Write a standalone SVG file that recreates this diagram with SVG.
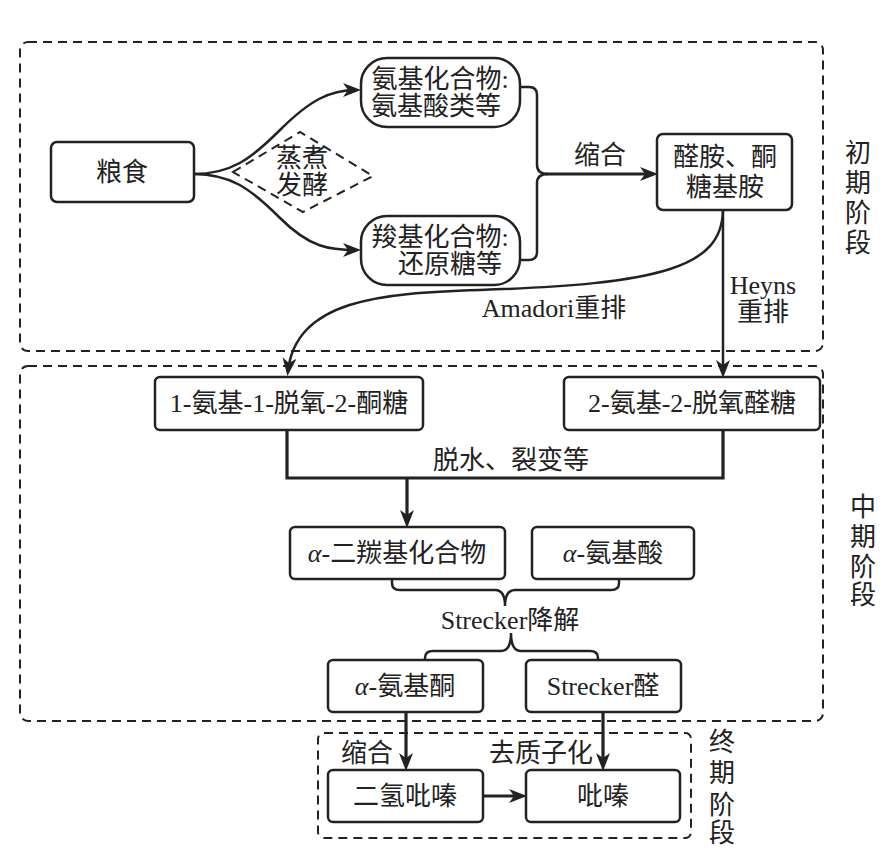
<svg xmlns="http://www.w3.org/2000/svg" width="890" height="854" viewBox="0 0 890 854">
<style>
.stage{fill:none;stroke:#222;stroke-width:2;stroke-dasharray:9 6}
.box{fill:#fff;stroke:#222;stroke-width:2.5}
.ln{fill:none;stroke:#222;stroke-width:2.5}
.thk{fill:none;stroke:#222;stroke-width:3.2}
text{font-family:"Liberation Serif","Noto Sans CJK SC",serif;font-size:26px;fill:#222;text-anchor:middle}
.it{font-style:italic}
</style>
<defs>
<marker id="ah" markerUnits="userSpaceOnUse" viewBox="0 0 18 14" markerWidth="18" markerHeight="14" refX="13" refY="7" orient="auto">
<path d="M0,0 L18,7 L0,14 L5,7 z" fill="#222"/>
</marker>
</defs>
<rect class="bg" width="890" height="854" fill="#fff"/>
<g id="stages">
<rect class="stage" x="20" y="42" width="803" height="309" rx="8"/>
<rect class="stage" x="20" y="366" width="803" height="355" rx="8"/>
<rect class="stage" x="318" y="733" width="373" height="105" rx="6"/>
<text x="858" y="162">初</text><text x="858" y="192">期</text><text x="858" y="222">阶</text><text x="858" y="252">段</text>
<text x="863" y="516">中</text><text x="863" y="546">期</text><text x="863" y="576">阶</text><text x="863" y="604">段</text>
<text x="722" y="751">终</text><text x="722" y="782">期</text><text x="722" y="814">阶</text><text x="722" y="842">段</text>
</g>
<g id="connectors">
<path class="ln" d="M194,174 C230,174 250,160 280,130 C310,100 330,90 356,90" marker-end="url(#ah)"/>
<path class="ln" d="M194,174 C230,174 250,188 280,218 C310,248 330,250 356,250" marker-end="url(#ah)"/>
<path class="ln" d="M520,87 H529 Q537,87 537,95 V165 Q537,174 548,174 M520,260 H529 Q537,260 537,252 V183 Q537,174 548,174"/>
<path class="thk" d="M546,174 H653" marker-end="url(#ah)"/>
<path class="ln" d="M723,210 V373" marker-end="url(#ah)"/>
<path class="ln" d="M723,210 C722,268 660,284 480,290 C380,293 296,300 288,371" marker-end="url(#ah)"/>
<path class="thk" d="M287,430 V478 H723 V430"/>
<path class="thk" d="M407,478 V523" marker-end="url(#ah)"/>
<path class="ln" d="M392,579 V583 Q392,590 400,590 H495 Q505,590 505,606 Q505,590 515,590 H611 Q619,590 619,583 V579"/>
<path class="ln" d="M425,660 V658 Q425,651 433,651 H501 Q511,651 511,633 Q511,651 521,651 H590 Q598,651 598,658 V660"/>
<path class="thk" d="M406,712 V766" marker-end="url(#ah)"/>
<path class="thk" d="M603,712 V766" marker-end="url(#ah)"/>
<path class="thk" d="M483,796 H522" marker-end="url(#ah)"/>
</g>
<g id="n-grain"><rect class="box" x="51" y="142" width="143" height="60" rx="6"/><text x="122" y="181">粮食</text></g>
<g id="n-process"><path d="M233,172 L300,132 L373,176 L303,212 Z" fill="none" stroke="#222" stroke-width="2" stroke-dasharray="9 6"/><text x="302" y="167">蒸煮</text><text x="302" y="194">发酵</text></g>
<g id="n-amino"><rect class="box" x="361" y="58" width="159" height="69" rx="26"/><text x="440" y="88">氨基化合物:</text><text x="436" y="115">氨基酸类等</text></g>
<g id="n-carbonyl"><rect class="box" x="361" y="216" width="159" height="69" rx="26"/><text x="440" y="246">羧基化合物:</text><text x="450" y="273">还原糖等</text></g>
<g id="n-glycosylamine"><rect class="box" x="657" y="134" width="135" height="76" rx="6"/><text x="725" y="166">醛胺、酮</text><text x="725" y="196">糖基胺</text></g>
<g id="l-top"><text x="600" y="164">缩合</text><text x="763" y="294">Heyns</text><text x="763" y="321">重排</text><text x="554" y="317">Amadori重排</text></g>
<g id="n-ketose"><rect class="box" x="155" y="377" width="268" height="53" rx="5"/><text x="289" y="412">1-氨基-1-脱氧-2-酮糖</text></g>
<g id="n-aldose"><rect class="box" x="564" y="377" width="256" height="53" rx="5"/><text x="692" y="412">2-氨基-2-脱氧醛糖</text></g>
<g id="l-mid"><text x="511" y="469">脱水、裂变等</text><text x="510" y="629">Strecker降解</text></g>
<g id="n-dicarbonyl"><rect class="box" x="290" y="527" width="215" height="52" rx="5"/><text x="397" y="562"><tspan class="it">α</tspan>-二羰基化合物</text></g>
<g id="n-aminoacid"><rect class="box" x="532" y="527" width="162" height="52" rx="5"/><text x="613" y="562"><tspan class="it">α</tspan>-氨基酸</text></g>
<g id="n-aminoketone"><rect class="box" x="328" y="660" width="155" height="52" rx="5"/><text x="405" y="695"><tspan class="it">α</tspan>-氨基酮</text></g>
<g id="n-aldehyde"><rect class="box" x="526" y="660" width="155" height="52" rx="5"/><text x="603" y="695">Strecker醛</text></g>
<g id="n-dihydropyrazine"><rect class="box" x="328" y="770" width="155" height="52" rx="5"/><text x="405" y="805">二氢吡嗪</text></g>
<g id="n-pyrazine"><rect class="box" x="526" y="770" width="154" height="52" rx="5"/><text x="603" y="805">吡嗪</text></g>
<g id="l-final"><text x="367" y="762">缩合</text><text x="541" y="762">去质子化</text></g>
</svg>
